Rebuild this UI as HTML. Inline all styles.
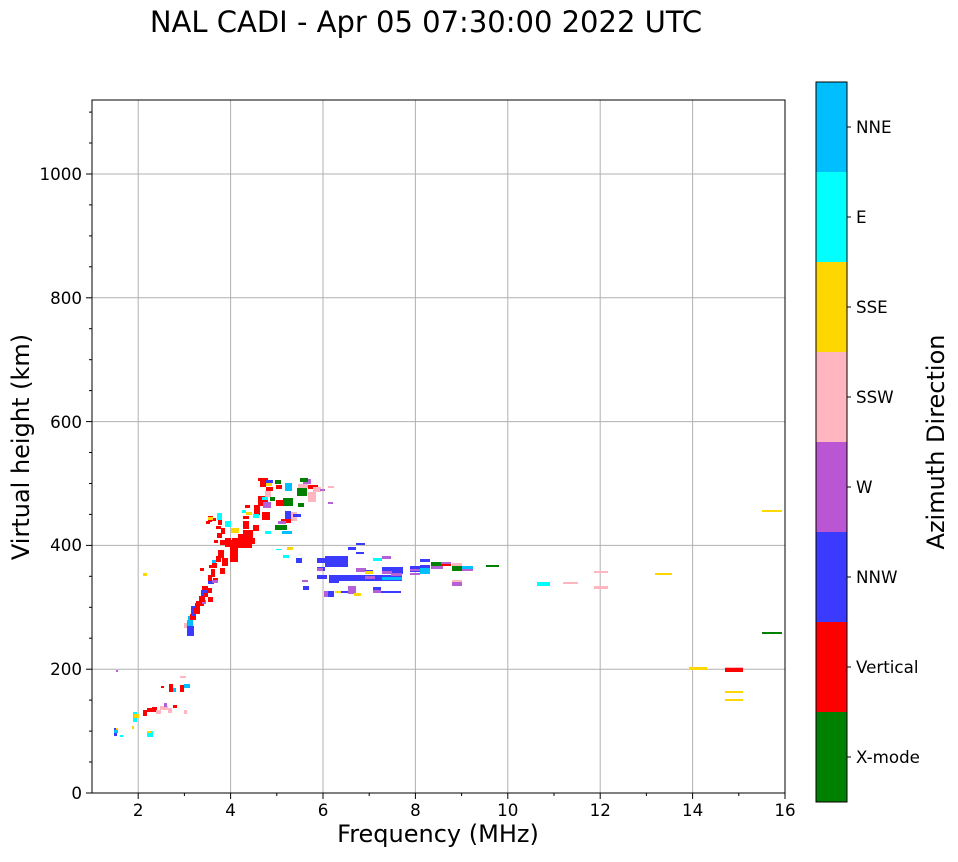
<!DOCTYPE html>
<html><head><meta charset="utf-8"><style>
body{margin:0;background:#fff;width:958px;height:857px;overflow:hidden}
text{font-family:"DejaVu Sans","Liberation Sans",sans-serif;fill:#000}
</style></head><body>
<svg width="958" height="857" viewBox="0 0 958 857" xmlns="http://www.w3.org/2000/svg">
<text x="426" y="32" font-size="29" text-anchor="middle">NAL CADI - Apr 05 07:30:00 2022 UTC</text>
<g stroke="#b0b0b0" stroke-width="1">
<line x1="138.2" y1="100" x2="138.2" y2="793"/><line x1="230.6" y1="100" x2="230.6" y2="793"/>
<line x1="323" y1="100" x2="323" y2="793"/><line x1="415.4" y1="100" x2="415.4" y2="793"/>
<line x1="507.8" y1="100" x2="507.8" y2="793"/><line x1="600.2" y1="100" x2="600.2" y2="793"/>
<line x1="692.6" y1="100" x2="692.6" y2="793"/>
<line x1="92" y1="669.2" x2="785" y2="669.2"/><line x1="92" y1="545.4" x2="785" y2="545.4"/>
<line x1="92" y1="421.6" x2="785" y2="421.6"/><line x1="92" y1="297.8" x2="785" y2="297.8"/>
<line x1="92" y1="174" x2="785" y2="174"/>
</g>
<g id="d">
<rect x="114" y="728" width="3" height="8" fill="#3b3bff"/><rect x="114" y="730" width="4" height="3" fill="#00bfff"/>
<rect x="116" y="728" width="2" height="2" fill="#ffd700"/><rect x="120" y="735" width="3" height="2" fill="#00ffff"/>
<rect x="133" y="712" width="4" height="10" fill="#00ffff"/><rect x="134" y="714" width="5" height="4" fill="#ffd700"/>
<rect x="132" y="726" width="2" height="3" fill="#ffd700"/><rect x="147" y="731" width="6" height="6" fill="#00ffff"/>
<rect x="147" y="731" width="4" height="2" fill="#ffd700"/><rect x="143" y="710" width="4" height="6" fill="#ff0000"/>
<rect x="147" y="708" width="6" height="4" fill="#ff0000"/><rect x="152" y="707" width="5" height="5" fill="#ff0000"/>
<rect x="156" y="710" width="5" height="4" fill="#ffb6c1"/><rect x="160" y="706" width="8" height="4" fill="#ffb6c1"/>
<rect x="164" y="703" width="3" height="4" fill="#b660d8"/><rect x="168" y="708" width="4" height="5" fill="#ffb6c1"/>
<rect x="173" y="705" width="4" height="3" fill="#ff0000"/><rect x="184" y="710" width="3" height="4" fill="#ffb6c1"/>
<rect x="161" y="686" width="3" height="2" fill="#ff0000"/><rect x="169" y="684" width="4" height="8" fill="#ff0000"/>
<rect x="173" y="688" width="3" height="4" fill="#00bfff"/><rect x="180" y="685" width="4" height="7" fill="#ff0000"/>
<rect x="184" y="684" width="6" height="4" fill="#00bfff"/><rect x="180" y="676" width="6" height="2" fill="#ffb6c1"/>
<rect x="116" y="670" width="2" height="2" fill="#b660d8"/><rect x="143" y="573" width="4" height="3" fill="#ffd700"/>
<rect x="184" y="623" width="4" height="5" fill="#ffb6c1"/><rect x="187" y="620" width="4" height="10" fill="#b660d8"/>
<rect x="187" y="626" width="7" height="10" fill="#3b3bff"/><rect x="188" y="616" width="5" height="10" fill="#00bfff"/>
<rect x="190" y="614" width="6" height="6" fill="#ff0000"/><rect x="191" y="606" width="5" height="10" fill="#3b3bff"/>
<rect x="194" y="608" width="6" height="6" fill="#ff0000"/><rect x="195" y="603" width="5" height="6" fill="#ff0000"/>
<rect x="196" y="601" width="8" height="5" fill="#ff0000"/><rect x="202" y="600" width="4" height="4" fill="#b660d8"/>
<rect x="199" y="596" width="6" height="6" fill="#ff0000"/><rect x="201" y="590" width="6" height="6" fill="#3b3bff"/>
<rect x="204" y="593" width="4" height="4" fill="#ff0000"/><rect x="208" y="597" width="5" height="5" fill="#ff0000"/>
<rect x="207" y="588" width="5" height="5" fill="#ff0000"/><rect x="202" y="586" width="6" height="4" fill="#ff0000"/>
<rect x="208" y="580" width="6" height="4" fill="#3b3bff"/><rect x="208" y="575" width="4" height="6" fill="#ff0000"/>
<rect x="211" y="569" width="4" height="8" fill="#ff0000"/><rect x="213" y="578" width="5" height="5" fill="#ff0000"/>
<rect x="212" y="580" width="6" height="3" fill="#b660d8"/><rect x="212" y="563" width="5" height="5" fill="#ff0000"/>
<rect x="209" y="565" width="4" height="3" fill="#ff0000"/><rect x="200" y="568" width="4" height="3" fill="#ff0000"/>
<rect x="220" y="568" width="5" height="6" fill="#ff0000"/><rect x="218" y="550" width="6" height="8" fill="#ff0000"/>
<rect x="216" y="556" width="5" height="6" fill="#ff0000"/><rect x="212" y="560" width="4" height="3" fill="#00bfff"/>
<rect x="222" y="558" width="6" height="8" fill="#ff0000"/><rect x="225" y="538" width="6" height="9" fill="#ff0000"/>
<rect x="230" y="540" width="8" height="22" fill="#ff0000"/><rect x="231" y="542" width="8" height="3" fill="#3b3bff"/>
<rect x="232" y="538" width="20" height="10" fill="#ff0000"/><rect x="238" y="534" width="10" height="6" fill="#ff0000"/>
<rect x="243" y="530" width="10" height="8" fill="#ff0000"/><rect x="248" y="538" width="7" height="6" fill="#ff0000"/>
<rect x="231" y="528" width="8" height="5" fill="#ffd700"/><rect x="243" y="521" width="6" height="8" fill="#ff0000"/>
<rect x="220" y="540" width="5" height="5" fill="#ff0000"/><rect x="214" y="540" width="4" height="3" fill="#ff0000"/>
<rect x="217" y="533" width="5" height="5" fill="#ff0000"/><rect x="221" y="528" width="4" height="6" fill="#ff0000"/>
<rect x="225" y="521" width="6" height="6" fill="#00ffff"/><rect x="216" y="526" width="5" height="3" fill="#ff0000"/>
<rect x="218" y="520" width="4" height="5" fill="#ff0000"/><rect x="217" y="513" width="5" height="7" fill="#00ffff"/>
<rect x="212" y="518" width="4" height="3" fill="#ff0000"/><rect x="208" y="516" width="5" height="3" fill="#ff0000"/>
<rect x="208" y="518" width="4" height="4" fill="#ff0000"/><rect x="208" y="517" width="5" height="3" fill="#ffd700"/>
<rect x="206" y="521" width="4" height="3" fill="#ff0000"/>
<rect x="253" y="525" width="6" height="6" fill="#ff0000"/><rect x="254" y="505" width="6" height="10" fill="#ff0000"/>
<rect x="258" y="496" width="10" height="10" fill="#ff0000"/><rect x="262" y="512" width="8" height="8" fill="#ff0000"/>
<rect x="253" y="514" width="6" height="4" fill="#00ffff"/><rect x="246" y="512" width="6" height="3" fill="#ffd700"/>
<rect x="243" y="516" width="6" height="3" fill="#ff0000"/><rect x="263" y="502" width="8" height="6" fill="#b660d8"/>
<rect x="265" y="491" width="6" height="6" fill="#ffb6c1"/><rect x="260" y="481" width="6" height="6" fill="#ff0000"/>
<rect x="258" y="478" width="10" height="3" fill="#ff0000"/><rect x="266" y="480" width="7" height="3" fill="#3b3bff"/>
<rect x="266" y="483" width="6" height="3" fill="#ffd700"/><rect x="275" y="480" width="6" height="4" fill="#008000"/>
<rect x="276" y="485" width="6" height="4" fill="#ff0000"/><rect x="266" y="487" width="7" height="4" fill="#ff0000"/>
<rect x="270" y="497" width="5" height="4" fill="#008000"/><rect x="285" y="483" width="7" height="8" fill="#00bfff"/>
<rect x="276" y="500" width="8" height="6" fill="#ff0000"/><rect x="283" y="498" width="10" height="8" fill="#008000"/>
<rect x="285" y="511" width="6" height="8" fill="#3b3bff"/><rect x="281" y="519" width="10" height="4" fill="#ff0000"/>
<rect x="275" y="525" width="12" height="5" fill="#008000"/><rect x="291" y="512" width="6" height="9" fill="#ffb6c1"/>
<rect x="297" y="488" width="10" height="8" fill="#008000"/><rect x="303" y="479" width="8" height="5" fill="#b660d8"/>
<rect x="300" y="478" width="8" height="4" fill="#008000"/><rect x="298" y="484" width="10" height="4" fill="#ffb6c1"/>
<rect x="308" y="492" width="8" height="10" fill="#ffb6c1"/><rect x="308" y="485" width="10" height="4" fill="#ff0000"/>
<rect x="313" y="487" width="8" height="5" fill="#ffb6c1"/><rect x="320" y="489" width="5" height="2" fill="#b660d8"/>
<rect x="298" y="503" width="6" height="4" fill="#008000"/><rect x="293" y="514" width="8" height="3" fill="#3b3bff"/>
<rect x="278" y="521" width="8" height="3" fill="#b660d8"/><rect x="265" y="531" width="6" height="3" fill="#00ffff"/>
<rect x="262" y="497" width="6" height="3" fill="#00ffff"/><rect x="245" y="505" width="5" height="3" fill="#ff0000"/>
<rect x="242" y="510" width="4" height="3" fill="#00ffff"/><rect x="282" y="531" width="10" height="3" fill="#00bfff"/>
<rect x="287" y="547" width="6" height="3" fill="#ffd700"/><rect x="283" y="555" width="6" height="3" fill="#00ffff"/>
<rect x="296" y="558" width="6" height="5" fill="#3b3bff"/><rect x="302" y="580" width="6" height="2" fill="#b660d8"/>
<rect x="276" y="549" width="6" height="1" fill="#00ffff"/><rect x="328" y="486" width="6" height="2" fill="#ffb6c1"/>
<rect x="328" y="502" width="5" height="2" fill="#b660d8"/>
<rect x="356" y="543" width="9" height="2" fill="#3b3bff"/><rect x="348" y="547" width="8" height="3" fill="#3b3bff"/>
<rect x="356" y="552" width="8" height="2" fill="#3b3bff"/><rect x="325" y="556" width="23" height="11" fill="#3b3bff"/>
<rect x="317" y="558" width="8" height="5" fill="#3b3bff"/><rect x="317" y="567" width="8" height="4" fill="#3b3bff"/>
<rect x="317" y="568" width="6" height="3" fill="#b660d8"/><rect x="317" y="575" width="10" height="4" fill="#3b3bff"/>
<rect x="329" y="575" width="73" height="6" fill="#3b3bff"/><rect x="329" y="580" width="10" height="3" fill="#3b3bff"/>
<rect x="356" y="568" width="10" height="4" fill="#b660d8"/><rect x="365" y="570" width="8" height="2" fill="#3b3bff"/>
<rect x="373" y="558" width="9" height="3" fill="#00ffff"/><rect x="382" y="556" width="9" height="3" fill="#b660d8"/>
<rect x="382" y="567" width="21" height="7" fill="#3b3bff"/><rect x="382" y="571" width="10" height="3" fill="#b660d8"/>
<rect x="365" y="571" width="8" height="3" fill="#ffd700"/><rect x="365" y="576" width="10" height="3" fill="#b660d8"/>
<rect x="382" y="577" width="20" height="3" fill="#00bfff"/><rect x="391" y="573" width="11" height="3" fill="#b660d8"/>
<rect x="324" y="591" width="10" height="4" fill="#3b3bff"/><rect x="324" y="594" width="10" height="3" fill="#3b3bff"/>
<rect x="324" y="591" width="4" height="6" fill="#b660d8"/><rect x="335" y="591" width="6" height="2" fill="#ffd700"/>
<rect x="341" y="591" width="9" height="2" fill="#3b3bff"/><rect x="348" y="586" width="8" height="8" fill="#b660d8"/>
<rect x="354" y="593" width="7" height="3" fill="#ffd700"/><rect x="373" y="588" width="8" height="4" fill="#3b3bff"/>
<rect x="373" y="590" width="8" height="3" fill="#b660d8"/><rect x="373" y="587" width="8" height="1" fill="#3b3bff"/>
<rect x="381" y="591" width="20" height="2" fill="#3b3bff"/><rect x="303" y="586" width="6" height="4" fill="#3b3bff"/>
<rect x="410" y="566" width="10" height="6" fill="#3b3bff"/><rect x="410" y="569" width="10" height="2" fill="#b660d8"/>
<rect x="410" y="573" width="10" height="2" fill="#b660d8"/><rect x="420" y="565" width="10" height="3" fill="#3b3bff"/>
<rect x="420" y="568" width="10" height="6" fill="#00bfff"/><rect x="431" y="562" width="12" height="6" fill="#008000"/>
<rect x="431" y="566" width="12" height="3" fill="#b660d8"/><rect x="441" y="562" width="10" height="4" fill="#ff0000"/>
<rect x="441" y="562" width="10" height="2" fill="#b660d8"/><rect x="452" y="563" width="10" height="8" fill="#008000"/>
<rect x="452" y="563" width="10" height="3" fill="#ffb6c1"/><rect x="462" y="566" width="11" height="5" fill="#b660d8"/>
<rect x="462" y="566" width="11" height="3" fill="#00bfff"/><rect x="420" y="559" width="10" height="3" fill="#3b3bff"/>
<rect x="452" y="580" width="10" height="6" fill="#b660d8"/><rect x="452" y="580" width="10" height="2" fill="#ffb6c1"/>
<rect x="486" y="565" width="13" height="2" fill="#008000"/>
<rect x="537" y="582" width="13" height="4" fill="#00ffff"/><rect x="563" y="582" width="15" height="2" fill="#ffb6c1"/>
<rect x="594" y="571" width="14" height="2" fill="#ffb6c1"/><rect x="594" y="586" width="14" height="3" fill="#ffb6c1"/>
<rect x="655" y="573" width="17" height="2" fill="#ffd700"/><rect x="689" y="667" width="18" height="3" fill="#ffd700"/>
<rect x="725" y="667" width="18" height="5" fill="#ff0000"/><rect x="725" y="667" width="18" height="1" fill="#ffb6c1"/>
<rect x="725" y="691" width="18" height="2" fill="#ffd700"/><rect x="725" y="699" width="18" height="2" fill="#ffd700"/>
<rect x="762" y="510" width="20" height="2" fill="#ffd700"/><rect x="762" y="632" width="20" height="2" fill="#008000"/>
</g>
<rect x="92" y="100" width="693" height="693" fill="none" stroke="#000" stroke-width="1"/>
<g stroke="#000" stroke-width="1">
<line x1="138.2" y1="793" x2="138.2" y2="799"/><line x1="230.6" y1="793" x2="230.6" y2="799"/>
<line x1="323" y1="793" x2="323" y2="799"/><line x1="415.4" y1="793" x2="415.4" y2="799"/>
<line x1="507.8" y1="793" x2="507.8" y2="799"/><line x1="600.2" y1="793" x2="600.2" y2="799"/>
<line x1="692.6" y1="793" x2="692.6" y2="799"/><line x1="785" y1="793" x2="785" y2="799"/>
<line x1="184.4" y1="793" x2="184.4" y2="796"/><line x1="276.8" y1="793" x2="276.8" y2="796"/>
<line x1="369.2" y1="793" x2="369.2" y2="796"/><line x1="461.6" y1="793" x2="461.6" y2="796"/>
<line x1="554" y1="793" x2="554" y2="796"/><line x1="646.4" y1="793" x2="646.4" y2="796"/>
<line x1="738.8" y1="793" x2="738.8" y2="796"/>
<line x1="86" y1="793" x2="92" y2="793"/><line x1="86" y1="669.2" x2="92" y2="669.2"/>
<line x1="86" y1="545.4" x2="92" y2="545.4"/><line x1="86" y1="421.6" x2="92" y2="421.6"/>
<line x1="86" y1="297.8" x2="92" y2="297.8"/><line x1="86" y1="174" x2="92" y2="174"/>
<line x1="89" y1="762" x2="92" y2="762"/><line x1="89" y1="731.1" x2="92" y2="731.1"/><line x1="89" y1="700.1" x2="92" y2="700.1"/>
<line x1="89" y1="638.2" x2="92" y2="638.2"/><line x1="89" y1="607.3" x2="92" y2="607.3"/><line x1="89" y1="576.3" x2="92" y2="576.3"/>
<line x1="89" y1="514.4" x2="92" y2="514.4"/><line x1="89" y1="483.5" x2="92" y2="483.5"/><line x1="89" y1="452.5" x2="92" y2="452.5"/>
<line x1="89" y1="390.6" x2="92" y2="390.6"/><line x1="89" y1="359.7" x2="92" y2="359.7"/><line x1="89" y1="328.7" x2="92" y2="328.7"/>
<line x1="89" y1="266.8" x2="92" y2="266.8"/><line x1="89" y1="235.9" x2="92" y2="235.9"/><line x1="89" y1="204.9" x2="92" y2="204.9"/>
<line x1="89" y1="143" x2="92" y2="143"/><line x1="89" y1="112.1" x2="92" y2="112.1"/>
</g>
<g font-size="16.7" text-anchor="middle">
<text x="138.2" y="816">2</text><text x="230.6" y="816">4</text><text x="323" y="816">6</text>
<text x="415.4" y="816">8</text><text x="507.8" y="816">10</text><text x="600.2" y="816">12</text>
<text x="692.6" y="816">14</text><text x="785" y="816">16</text>
</g>
<g font-size="16.7" text-anchor="end">
<text x="82" y="799">0</text><text x="82" y="675">200</text><text x="82" y="551">400</text>
<text x="82" y="428">600</text><text x="82" y="304">800</text><text x="82" y="180">1000</text>
</g>
<text x="438" y="842" font-size="24" text-anchor="middle">Frequency (MHz)</text>
<text transform="translate(29,447) rotate(-90)" font-size="24" text-anchor="middle">Virtual height (km)</text>
<rect x="816" y="712" width="31" height="90" fill="#008000"/>
<rect x="816" y="622" width="31" height="90" fill="#ff0000"/>
<rect x="816" y="532" width="31" height="90" fill="#3b3bff"/>
<rect x="816" y="442" width="31" height="90" fill="#ba55d3"/>
<rect x="816" y="352" width="31" height="90" fill="#ffb6c1"/>
<rect x="816" y="262" width="31" height="90" fill="#ffd700"/>
<rect x="816" y="172" width="31" height="90" fill="#00ffff"/>
<rect x="816" y="82" width="31" height="90" fill="#00bfff"/>
<rect x="816" y="82" width="31" height="720" fill="none" stroke="#000" stroke-width="1"/>
<g stroke="#000"><line x1="847" y1="757" x2="851" y2="757"/><line x1="847" y1="667" x2="851" y2="667"/>
<line x1="847" y1="577" x2="851" y2="577"/><line x1="847" y1="487" x2="851" y2="487"/>
<line x1="847" y1="397" x2="851" y2="397"/><line x1="847" y1="307" x2="851" y2="307"/>
<line x1="847" y1="217" x2="851" y2="217"/><line x1="847" y1="127" x2="851" y2="127"/></g>
<g font-size="16.7">
<text x="856" y="763">X-mode</text><text x="856" y="673">Vertical</text><text x="856" y="583">NNW</text>
<text x="856" y="493">W</text><text x="856" y="403">SSW</text><text x="856" y="313">SSE</text>
<text x="856" y="223">E</text><text x="856" y="133">NNE</text>
</g>
<text transform="translate(944,442) rotate(-90)" font-size="24" text-anchor="middle">Azimuth Direction</text>
</svg>
</body></html>
